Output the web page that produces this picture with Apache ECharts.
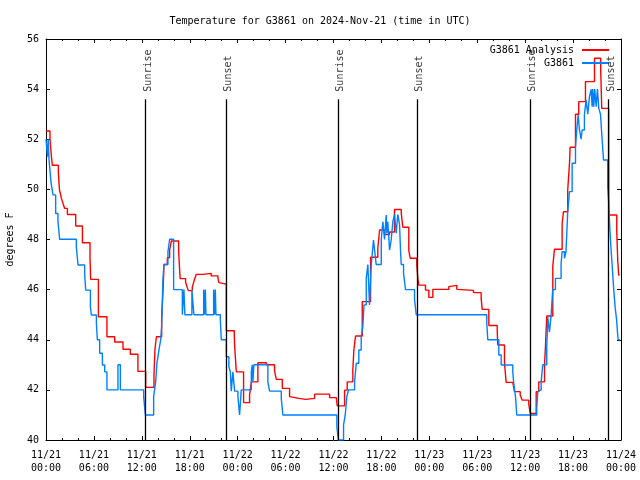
<!DOCTYPE html>
<html>
<head>
<meta charset="utf-8">
<script src="https://cdn.jsdelivr.net/npm/echarts@6/dist/echarts.min.js"></script>
<style>html,body{margin:0;padding:0;background:#fff}#c{width:640px;height:480px}</style>
</head>
<body>
<div id="c"></div>
<script>
// hours since 2024-11-21 00:00 UTC
var xTickLabels = ["11/21\n00:00","11/21\n06:00","11/21\n12:00","11/21\n18:00","11/22\n00:00","11/22\n06:00","11/22\n12:00","11/22\n18:00","11/23\n00:00","11/23\n06:00","11/23\n12:00","11/23\n18:00","11/24\n00:00"];
var yTicks = [40,42,44,46,48,50,52,54,56];

var analysisHours = [0,0.50,0.68,0.80,1.55,1.68,1.93,2.13,2.34,2.68,3.72,4.56,5.51,5.59,6.56,7.63,8.60,9.64,10.56,11.51,12.48,13.52,13.64,13.82,14.48,14.69,14.77,15.19,15.48,15.70,16.61,16.73,16.80,17.48,17.65,17.82,18.32,18.57,18.82,19.65,20.68,21.53,21.65,21.78,22.58,23.58,23.62,23.83,24.74,25.49,25.71,26.53,27.59,28.62,28.84,29.59,30.50,30.71,31.67,32.50,33.63,35.51,36.35,36.47,37.39,37.72,38.42,38.55,38.76,39.60,40.64,41.55,41.77,42.39,43.02,43.64,44.48,44.68,45.43,45.61,46.43,46.56,46.68,47.52,47.94,48.44,50.44,50.53,51.44,51.65,53.53,54.49,54.62,55.45,56.50,56.57,57.41,57.62,58.45,58.66,59.38,59.63,60.45,60.63,61.38,61.70,62.42,62.54,62.70,63.46,63.67,64.63,64.80,65.33,65.55,65.63,66.30,66.71,67.55,68.68,69.46,69.59,70.46,71.47,71.59,71.71,71.84];
var analysisTemps = [52.33,52.0,51.3,50.96,50.67,50.0,49.64,49.44,49.24,49.0,48.54,47.87,47.3,46.41,44.92,44.12,43.91,43.62,43.42,42.74,42.1,42.6,43.6,44.12,44.79,46.25,47.0,47.27,47.6,47.94,47.51,46.81,46.44,46.3,46.12,45.96,46.1,46.38,46.61,46.65,46.55,46.45,46.28,46.22,44.36,44.15,43.76,42.72,41.49,41.8,42.32,43.08,43.0,42.75,42.42,42.06,41.73,41.66,41.62,41.66,41.83,41.69,41.62,41.36,41.99,42.32,42.79,43.59,44.15,45.52,47.29,47.65,48.38,48.2,48.3,49.2,49.06,48.49,47.56,47.25,46.98,46.45,46.18,45.98,45.69,46.01,46.12,46.17,46.01,45.97,45.88,45.64,45.21,44.57,44.36,43.79,43.06,42.3,42.23,41.93,41.8,41.59,41.43,41.06,41.93,42.32,42.99,43.72,44.95,46.94,47.61,48.65,49.11,49.98,51.04,51.68,53.0,53.5,54.3,55.23,54.7,53.23,48.98,48.31,47.18,46.58,46.58];

var stationHours = [0,0.18,0.27,0.38,0.50,0.63,0.88,1.21,1.50,1.71,3.80,4.01,4.84,4.97,5.56,5.68,6.31,6.43,6.72,7.06,7.35,7.63,9.01,9.31,12.23,12.44,13.48,13.73,13.89,14.14,14.36,14.48,14.64,14.77,15.27,15.48,15.98,17.07,17.27,17.39,18.27,18.52,19.74,19.83,19.95,20.03,20.99,21.08,21.20,21.28,21.83,21.95,22.58,22.90,23.08,23.20,23.40,23.62,24.03,24.24,24.45,25.71,25.83,25.91,26.03,27.78,28.00,29.46,29.66,36.42,36.60,37.26,37.47,37.67,37.88,38.64,38.85,39.17,39.47,39.67,39.82,40.10,40.30,40.51,40.73,40.93,41.01,41.26,41.35,41.98,42.18,42.39,42.60,42.68,42.80,43.02,43.23,43.43,43.64,43.85,44.05,44.27,44.39,44.48,44.77,45.02,46.15,46.36,55.19,55.32,56.70,57.00,58.45,58.57,58.79,58.95,61.45,61.58,61.79,62.00,62.20,62.70,62.83,63.04,63.23,63.45,63.79,64.50,64.63,64.92,65.11,65.33,65.55,65.88,66.30,66.46,66.63,66.80,67.01,67.13,67.42,67.63,67.84,68.05,68.26,68.39,68.46,68.59,68.71,68.89,69.05,69.22,69.43,69.64,69.81,70.34,70.46,70.59,70.76,70.89,71.09,71.28,71.45,71.57,71.65,71.84];
var stationTemps = [52.0,51.3,52.0,51.2,50.74,50.27,49.78,49.04,48.71,48.01,47.7,46.98,46.62,45.98,45.32,44.99,44.66,44.0,43.46,42.99,42.72,42.0,43.0,42.0,41.73,41.0,41.73,42.32,43.06,43.59,44.0,44.52,46.38,47.0,47.51,48.01,46.0,45.0,46.0,45.0,46.0,45.0,46.0,45.0,46.0,45.0,46.0,45.0,46.0,45.0,44.79,44.0,43.32,42.92,42.72,41.95,42.72,41.95,41.73,41.0,42.0,42.72,43.0,42.32,43.0,42.32,41.95,41.66,41.0,40.53,40.0,40.6,41.0,41.73,42.0,42.32,43.06,43.59,44.12,44.5,45.39,46.45,47.0,45.39,47.0,47.71,47.98,47.25,47.0,48.0,48.71,48.0,48.98,48.25,48.71,47.58,48.0,48.71,49.0,48.25,49.0,48.6,47.58,47.0,46.65,46.0,45.6,45.0,44.68,44.0,43.39,42.99,42.72,42.26,41.73,41.0,41.26,41.93,42.0,42.32,43.0,43.66,44.9,44.3,44.9,46.0,46.45,47.05,47.51,47.25,47.51,49.11,49.91,51.04,51.7,52.37,52.97,52.37,52.0,52.37,52.97,53.57,53.0,53.7,53.99,53.3,54.0,53.3,54.0,53.3,54.0,53.23,53.0,51.97,51.17,50.1,49.5,48.5,47.58,46.98,46.0,45.25,44.79,44.26,44.0,44.0];

var sunHours = [12.48,22.53,36.55,46.43,60.58,70.46];
var sunNames = ["Sunrise","Sunset","Sunrise","Sunset","Sunrise","Sunset"];
var sunLineTop = 53.6;

function pairs(xs, ys){ return xs.map(function(x,i){ return [x, ys[i]]; }); }

var FONT = "DejaVu Sans Mono";
var chart = echarts.init(document.getElementById('c'), null, {renderer:'canvas'});
var axisCommon = {
  axisLine:{show:true, onZero:false, lineStyle:{color:'#000', width:1}},
  axisTick:{show:true, inside:true, length:4, lineStyle:{color:'#000'}},
  splitLine:{show:false}
};
chart.setOption({
  animation:false,
  backgroundColor:'#fff',
  title:{text:'Temperature for G3861 on 2024-Nov-21 (time in UTC)', left:'center', top:11,
    textStyle:{fontFamily:FONT, fontSize:10, fontWeight:'normal', color:'#000'}},
  legend:{orient:'vertical', right:31, top:44, align:'right', itemWidth:27, itemHeight:2, itemGap:1,
    icon:'rect', padding:0,
    textStyle:{fontFamily:FONT, fontSize:10, color:'#000', padding:[0,3,0,0], lineHeight:12},
    data:['G3861 Analysis','G3861']},
  grid:{left:46, right:19, top:39, bottom:40, containLabel:false, outerBoundsMode:'none'},
  xAxis:[
    Object.assign({type:'value', min:0, max:72, interval:6, position:'bottom',
      minorTick:{show:true, splitNumber:3, length:2, lineStyle:{color:'#000'}},
      axisLabel:{fontFamily:FONT, fontSize:10, color:'#000', lineHeight:13, margin:9,
        formatter:function(v){ return xTickLabels[Math.round(v/6)]; }}}, axisCommon),
    Object.assign({type:'value', min:0, max:72, interval:6, position:'top',
      minorTick:{show:true, splitNumber:3, length:2, lineStyle:{color:'#000'}},
      axisLabel:{show:false}}, axisCommon)
  ],
  yAxis:[
    Object.assign({type:'value', min:40, max:56, interval:2, position:'left',
      name:'degrees F', nameLocation:'middle', nameGap:31, nameRotate:90,
      nameTextStyle:{fontFamily:FONT, fontSize:10, color:'#000'},
      axisLabel:{fontFamily:FONT, fontSize:10, color:'#000', margin:7,
        formatter:function(v){ return yTicks.indexOf(v) >= 0 ? String(v) : ''; }}}, axisCommon),
    Object.assign({type:'value', min:40, max:56, interval:2, position:'right',
      axisLabel:{show:false}}, axisCommon)
  ],
  series:[
    {name:'G3861 Analysis', type:'line', step:'end', symbol:'none', data:pairs(analysisHours, analysisTemps),
      lineStyle:{color:'#ff0000', width:1.4}, itemStyle:{color:'#ff0000'}, z:3},
    {name:'G3861', type:'line', step:'end', symbol:'none', data:pairs(stationHours, stationTemps),
      lineStyle:{color:'#0080ff', width:1.4}, itemStyle:{color:'#0080ff'}, z:4},
    {name:'sun', type:'scatter', symbolSize:1, itemStyle:{color:'rgba(0,0,0,0)'}, silent:true, z:5,
      data:sunHours.map(function(h,i){ return [h, sunLineTop, sunNames[i]]; }),
      label:{show:true, position:'top', distance:7, rotate:90, align:'left', verticalAlign:'middle',
        offset:[0,2.5],
        fontFamily:FONT, fontSize:10, color:'#000', formatter:function(p){ return p.value[2]; }},
      markLine:{silent:true, symbol:'none', label:{show:false},
        lineStyle:{color:'#000', width:1.3, type:'solid'},
        data:sunHours.map(function(h){ return [{coord:[h,40]},{coord:[h,sunLineTop]}]; })}}
  ]
});
</script>
</body>
</html>
